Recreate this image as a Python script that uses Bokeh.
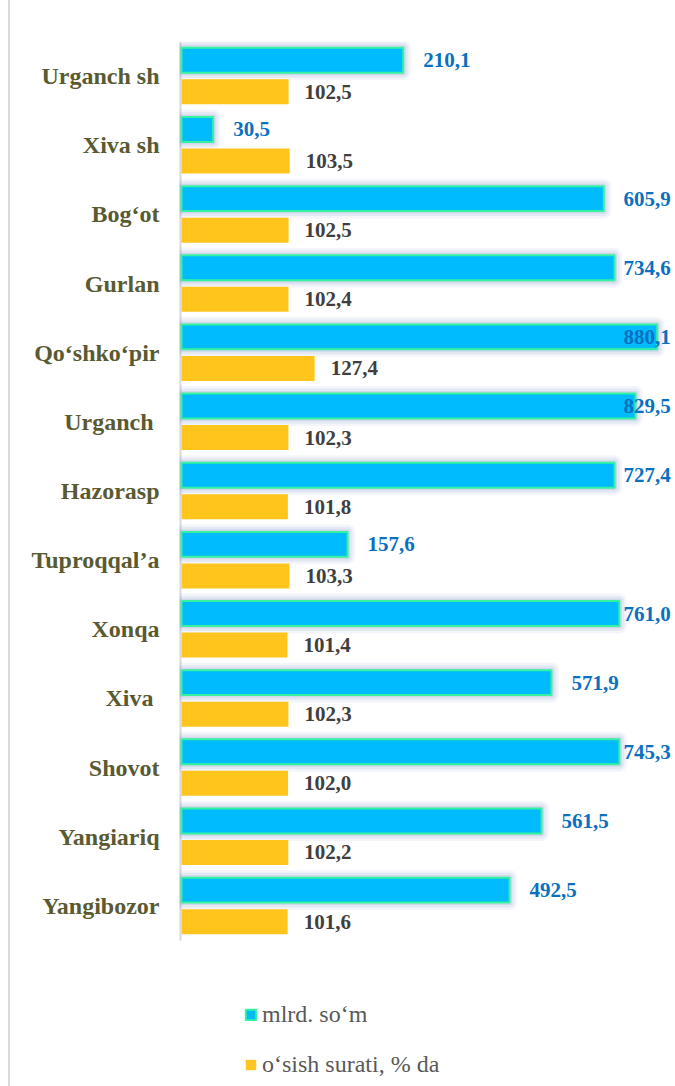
from bokeh.plotting import figure
from bokeh.models import Range1d, ColumnDataSource, Legend, LegendItem, FixedTicker
from bokeh.core.properties import value
from bokeh.embed import file_html
from bokeh.resources import INLINE

# ---------------- data ----------------
categories = ["Urganch sh", "Xiva sh", "Bog\u2018ot", "Gurlan", "Qo\u2018shko\u2018pir", "Urganch ",
              "Hazorasp", "Tuproqqal\u2019a", "Xonqa", "Xiva ", "Shovot", "Yangiariq", "Yangibozor"]
# printed values of the blue series (mlrd. so'm)
mlrd_som = [210.1, 30.5, 605.9, 734.6, 880.1, 829.5, 727.4, 157.6, 761.0, 571.9, 745.3, 561.5, 492.5]
# bar lengths of the blue series as drawn in the picture (same axis as the yellow series)
mlrd_som_bar = [212.2, 30.3, 404.1, 414.4, 455.2, 434.4, 414.4, 158.9, 419.0, 354.0, 419.0, 344.5, 313.9]
# growth rate, %
osish_surati = [102.5, 103.5, 102.5, 102.4, 127.4, 102.3, 101.8, 103.3, 101.4, 102.3, 102.0, 102.2, 101.6]
series_names = ["mlrd. so\u2018m", "o\u2018sish surati, % da"]

# ---------------- layout constants ----------------
W, H = 665, 1086
FRAME_LEFT, FRAME_TOP = 169, 41
PX_PER_UNIT = 1.045          # horizontal scale
BAND_PX = 69.15              # height of one category band
n = len(categories)
frame_w = W - FRAME_LEFT
frame_h = H - FRAME_TOP
x_min = -2 / PX_PER_UNIT
x_max = x_min + frame_w / PX_PER_UNIT
y_max = n - 0.5
y_min = y_max - frame_h / BAND_PX

fmt = lambda v: f"{v:.1f}".replace(".", ",")

# category centres (top category highest)
yc = [n - 1 - i for i in range(n)]
OFF = 0.228

# label positions (in data units): gap after bar, clamped to the right edge
LABEL_W = 48
CLAMP = 490
blue_lab_x = []
for b in mlrd_som_bar:
    s = b * PX_PER_UNIT + 20
    if s + LABEL_W > CLAMP:
        s = CLAMP - LABEL_W
    blue_lab_x.append(s / PX_PER_UNIT)
yel_lab_x = [v + 16 / PX_PER_UNIT for v in osish_surati]

src = ColumnDataSource(dict(
    yb=[c + OFF for c in yc],
    yy=[c - OFF for c in yc],
    blue=mlrd_som_bar,
    blue_txt=[fmt(v) for v in mlrd_som],
    blue_lx=blue_lab_x,
    yel=osish_surati,
    yel_txt=[fmt(v) for v in osish_surati],
    yel_lx=yel_lab_x,
))

p = figure(width=W, height=H, output_backend="svg", toolbar_location=None,
           y_range=Range1d(y_min, y_max), x_range=Range1d(x_min, x_max),
           min_border_left=FRAME_LEFT, min_border_right=0,
           min_border_top=FRAME_TOP, min_border_bottom=0)
p.outline_line_color = None
p.background_fill_color = "white"
p.border_fill_color = "white"
p.xgrid.visible = False
p.ygrid.visible = False
p.xaxis.visible = False

# category axis line (only along the category bands)
p.segment(x0=[x_min], x1=[x_min], y0=[-0.5], y1=[n - 0.5], line_color="#D9D9D9", line_width=4)

# soft glow behind blue bars
for lw, la in [(15, 0.10), (10, 0.14), (5, 0.22)]:
    p.hbar(y="yb", right="blue", left=0, height=0.36, source=src, fill_color=None,
           line_color="#8A9CCB", line_alpha=la, line_width=lw, line_join="round")
r_blue = p.hbar(y="yb", right="blue", left=0, height=0.36, source=src,
                fill_color="#00BCFF", line_color="#33F2A0", line_width=2)
r_yel = p.hbar(y="yy", right="yel", left=0, height=0.3615, source=src,
               fill_color="#FFC51C", line_color=None)

p.text(x="blue_lx", y="yb", text="blue_txt", source=src, text_font=value("Liberation Serif"),
       text_font_style="bold", text_font_size="21px", text_color="#0B70C0",
       text_baseline="middle", text_align="left")
p.text(x="yel_lx", y="yy", text="yel_txt", source=src, text_font=value("Liberation Serif"),
       text_font_style="bold", text_font_size="21px", text_color="#3F3F3F",
       text_baseline="middle", text_align="left")

ax = p.yaxis[0]
ax.ticker = FixedTicker(ticks=yc)
ax.major_label_overrides = {c: lab for c, lab in zip(yc, categories)}
ax.axis_line_color = None
ax.major_tick_line_color = None
ax.minor_tick_line_color = None
ax.major_tick_out = 0
ax.major_tick_in = 0
ax.major_label_standoff = 20
ax.major_label_text_font = "Liberation Serif"
ax.major_label_text_font_style = "bold"
ax.major_label_text_font_size = "24px"
ax.major_label_text_color = "#5A5A32"

legend = Legend(items=[LegendItem(label=series_names[0], renderers=[r_blue]),
                       LegendItem(label=series_names[1], renderers=[r_yel])],
                location=(65, 8), orientation="vertical",
                glyph_width=13, glyph_height=13, label_standoff=5, spacing=23,
                padding=0, margin=0, border_line_color=None, background_fill_alpha=0,
                label_text_font="Liberation Serif", label_text_font_size="24px",
                label_text_color="#595959")
p.add_layout(legend, "center")
p.styles = {"border-left": "2px solid #D9D9D9", "margin-left": "8px"}

open("out.html", "w").write(file_html(p, INLINE))
